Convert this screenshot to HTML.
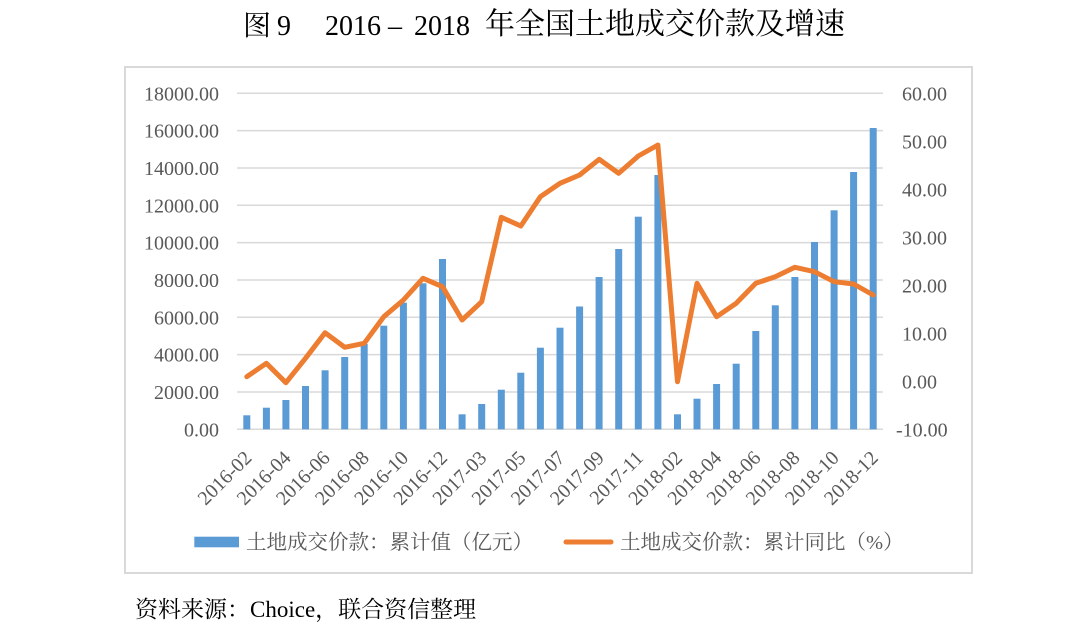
<!DOCTYPE html>
<html>
<head>
<meta charset="utf-8">
<style>
html,body{margin:0;padding:0;background:#fff;}
svg{display:block;}
</style>
</head>
<body>
<svg width="1080" height="629" viewBox="0 0 1080 629" xmlns="http://www.w3.org/2000/svg">
<rect x="0" y="0" width="1080" height="629" fill="#fff"/>
<!-- Title -->
<g font-family="'Liberation Serif','Noto Serif CJK SC',serif" fill="#000">
  <text x="243" y="35" font-size="28">图</text>
  <text x="277" y="35" font-size="28">9</text>
  <text x="325" y="35" font-size="28">2016</text>
  <text x="388" y="35" font-size="28">–</text>
  <text x="414" y="35" font-size="28">2018</text>
  <text x="485" y="34" font-size="30" textLength="360" lengthAdjust="spacing">年全国土地成交价款及增速</text>
</g>
<!-- Chart border -->
<rect x="125" y="67" width="847" height="506" fill="none" stroke="#d9d9d9" stroke-width="2"/>
<!-- Gridlines -->
<g stroke="#d9d9d9" stroke-width="1.5">
  <line x1="237" x2="883" y1="93.3" y2="93.3"/>
  <line x1="237" x2="883" y1="130.6" y2="130.6"/>
  <line x1="237" x2="883" y1="168" y2="168"/>
  <line x1="237" x2="883" y1="205.3" y2="205.3"/>
  <line x1="237" x2="883" y1="242.6" y2="242.6"/>
  <line x1="237" x2="883" y1="280" y2="280"/>
  <line x1="237" x2="883" y1="317.3" y2="317.3"/>
  <line x1="237" x2="883" y1="354.6" y2="354.6"/>
  <line x1="237" x2="883" y1="392" y2="392"/>
  <line x1="237" x2="883" y1="429.3" y2="429.3"/>
</g>
<!-- Left axis labels -->
<g font-family="'Liberation Serif',serif" font-size="20" fill="#595959" text-anchor="end">
  <text x="219" y="100.3">18000.00</text>
  <text x="219" y="137.6">16000.00</text>
  <text x="219" y="175">14000.00</text>
  <text x="219" y="212.3">12000.00</text>
  <text x="219" y="249.6">10000.00</text>
  <text x="219" y="287">8000.00</text>
  <text x="219" y="324.3">6000.00</text>
  <text x="219" y="361.6">4000.00</text>
  <text x="219" y="399">2000.00</text>
  <text x="219" y="436.3">0.00</text>
</g>
<!-- Right axis labels -->
<g font-family="'Liberation Serif',serif" font-size="20" fill="#595959">
  <text x="902" y="100.5">60.00</text>
  <text x="902" y="148.5">50.00</text>
  <text x="902" y="196.5">40.00</text>
  <text x="902" y="244.5">30.00</text>
  <text x="902" y="292.5">20.00</text>
  <text x="902" y="340.5">10.00</text>
  <text x="902" y="388.5">0.00</text>
  <text x="896" y="436.5">-10.00</text>
</g>
<!-- Bars -->
<g fill="#5b9bd5">
  <rect x="243.3" y="415.3" width="7" height="14"/>
  <rect x="262.9" y="407.7" width="7" height="21.6"/>
  <rect x="282.4" y="400" width="7" height="29.3"/>
  <rect x="302" y="386" width="7" height="43.3"/>
  <rect x="321.6" y="370.3" width="7" height="59"/>
  <rect x="341.2" y="357" width="7" height="72.3"/>
  <rect x="360.7" y="344" width="7" height="85.3"/>
  <rect x="380.3" y="325.7" width="7" height="103.6"/>
  <rect x="399.9" y="302.7" width="7" height="126.6"/>
  <rect x="419.5" y="283.3" width="7" height="146"/>
  <rect x="439" y="259" width="7" height="170.3"/>
  <rect x="458.6" y="414.3" width="7" height="15"/>
  <rect x="478.2" y="404" width="7" height="25.3"/>
  <rect x="497.8" y="389.7" width="7" height="39.6"/>
  <rect x="517.3" y="372.7" width="7" height="56.6"/>
  <rect x="536.9" y="347.7" width="7" height="81.6"/>
  <rect x="556.5" y="327.7" width="7" height="101.6"/>
  <rect x="576.1" y="306.5" width="7" height="122.8"/>
  <rect x="595.6" y="277" width="7" height="152.3"/>
  <rect x="615.2" y="249" width="7" height="180.3"/>
  <rect x="634.8" y="216.7" width="7" height="212.6"/>
  <rect x="654.4" y="175" width="7" height="254.3"/>
  <rect x="674" y="414.3" width="7" height="15"/>
  <rect x="693.5" y="398.7" width="7" height="30.6"/>
  <rect x="713.1" y="384" width="7" height="45.3"/>
  <rect x="732.7" y="363.7" width="7" height="65.6"/>
  <rect x="752.3" y="331" width="7" height="98.3"/>
  <rect x="771.8" y="305.3" width="7" height="124"/>
  <rect x="791.4" y="277" width="7" height="152.3"/>
  <rect x="811" y="242" width="7" height="187.3"/>
  <rect x="830.6" y="210.3" width="7" height="219"/>
  <rect x="850.1" y="172" width="7" height="257.3"/>
  <rect x="869.7" y="128" width="7" height="301.3"/>
</g>
<!-- Line -->
<polyline fill="none" stroke="#ed7d31" stroke-width="5" stroke-linejoin="round" stroke-linecap="round"
 points="246.8,376.7 266.4,363.3 285.9,382.7 305.5,358.3 325.1,332.7 344.7,347.3 364.2,343.3 383.8,316.7 403.4,300 423,278.3 442.5,286.7 462.1,320 481.7,301.7 501.3,217.3 520.8,226 540.4,196.7 560,183.3 579.6,175 599.2,159.3 618.7,173.3 638.3,156 657.9,145 677.5,381.7 697,283.3 716.6,316.7 736.2,303.3 755.8,283.3 775.3,276.7 794.9,267.3 814.5,271.7 834.1,281.7 853.6,284 873.2,295"/>
<!-- X axis labels -->
<g font-family="'Liberation Serif',serif" font-size="20" fill="#595959" text-anchor="end">
  <text transform="translate(252.8,459) rotate(-45)">2016-02</text>
  <text transform="translate(291.9,459) rotate(-45)">2016-04</text>
  <text transform="translate(331.1,459) rotate(-45)">2016-06</text>
  <text transform="translate(370.2,459) rotate(-45)">2016-08</text>
  <text transform="translate(409.4,459) rotate(-45)">2016-10</text>
  <text transform="translate(448.5,459) rotate(-45)">2016-12</text>
  <text transform="translate(487.7,459) rotate(-45)">2017-03</text>
  <text transform="translate(526.8,459) rotate(-45)">2017-05</text>
  <text transform="translate(566,459) rotate(-45)">2017-07</text>
  <text transform="translate(605.2,459) rotate(-45)">2017-09</text>
  <text transform="translate(644.3,459) rotate(-45)">2017-11</text>
  <text transform="translate(683.5,459) rotate(-45)">2018-02</text>
  <text transform="translate(722.6,459) rotate(-45)">2018-04</text>
  <text transform="translate(761.8,459) rotate(-45)">2018-06</text>
  <text transform="translate(800.9,459) rotate(-45)">2018-08</text>
  <text transform="translate(840.1,459) rotate(-45)">2018-10</text>
  <text transform="translate(879.2,459) rotate(-45)">2018-12</text>
</g>
<!-- Legend -->
<rect x="194.3" y="536.7" width="44.7" height="10.6" fill="#5b9bd5"/>
<line x1="566" y1="542" x2="611" y2="542" stroke="#ed7d31" stroke-width="5" stroke-linecap="round"/>
<g font-family="'Liberation Serif','Noto Serif CJK SC',serif" font-size="20.5" fill="#595959">
  <text x="246" y="549">土地成交价款：累计值（亿元）</text>
  <text x="620" y="549">土地成交价款：累计同比（%）</text>
</g>
<!-- Source -->
<text x="135" y="617" font-family="'Liberation Serif','Noto Serif CJK SC',serif" font-size="23" fill="#000">资料来源：Choice，联合资信整理</text>
</svg>
</body>
</html>
